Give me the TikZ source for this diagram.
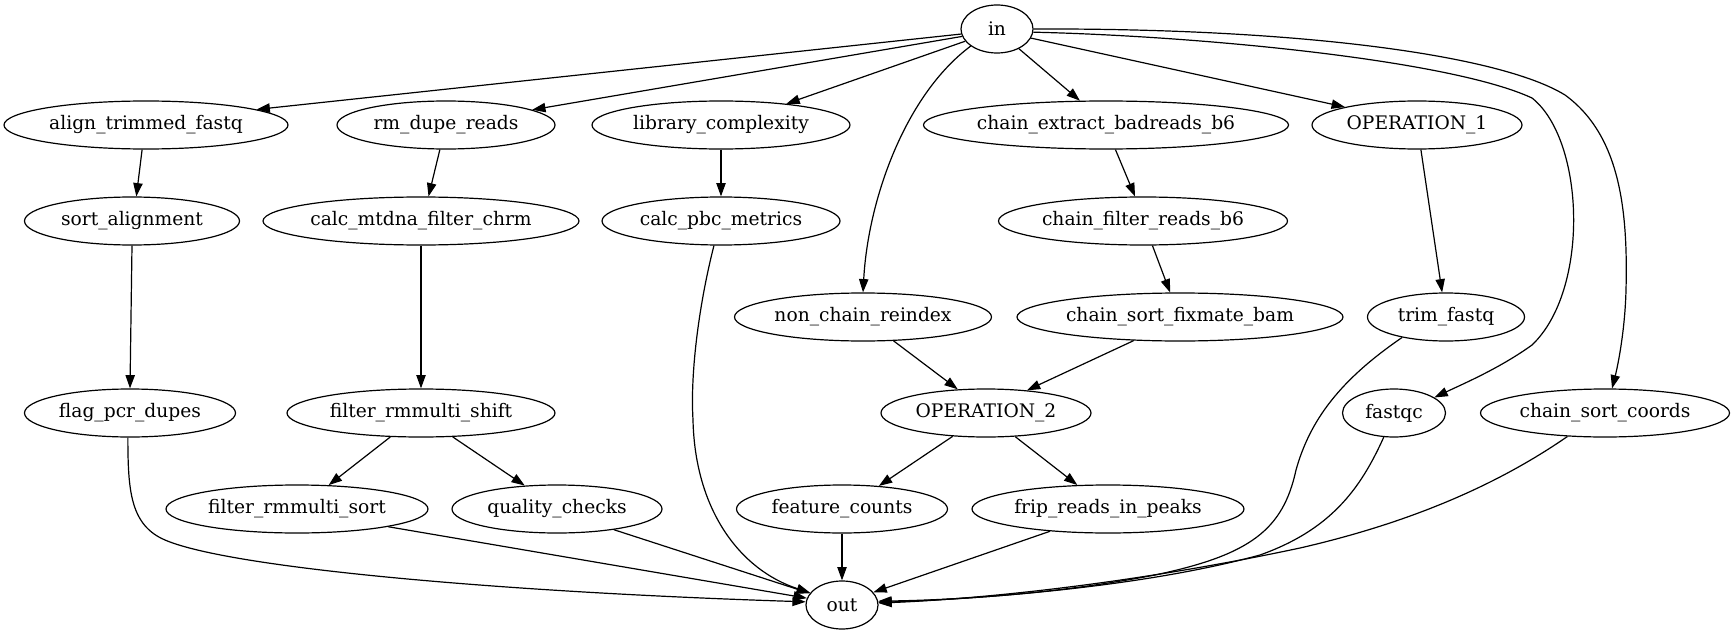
\documentclass[tikz,border=0pt]{standalone}
\usepackage{fontspec}
\setmainfont{DejaVu Serif}
\usetikzlibrary{arrows.meta,shapes.geometric}
\begin{document}
\begin{tikzpicture}[x=0.75pt,y=-0.75pt,
  nd/.style={draw, ellipse, inner sep=0pt, minimum height=36pt, line width=0.9pt, font=\fontsize{14}{17}\selectfont},
  conn/.style={line width=0.9pt, -{Triangle[length=10pt,width=7pt]}}]
\useasboundingbox (0,0) rectangle (1735,635);
% rank 0
\node[nd, minimum width=54pt] (in) at (997,29) {in};
% rank 1
\node[nd, minimum width=213pt] (align) at (146,125) {align\_trimmed\_fastq};
\node[nd, minimum width=163.5pt] (rmdupe) at (446,125) {rm\_dupe\_reads};
\node[nd, minimum width=193.5pt] (libc) at (721,125) {library\_complexity};
\node[nd, minimum width=273pt] (cext) at (1106,125) {chain\_extract\_badreads\_b6};
\node[nd, minimum width=157.5pt] (op1) at (1417,125) {OPERATION\_1};
% rank 2
\node[nd, minimum width=161.25pt] (sorta) at (132,221) {sort\_alignment};
\node[nd, minimum width=237pt] (mtdna) at (421,221) {calc\_mtdna\_filter\_chrm};
\node[nd, minimum width=178.5pt] (pbc) at (721,221) {calc\_pbc\_metrics};
\node[nd, minimum width=216.75pt] (cfilt) at (1143,221) {chain\_filter\_reads\_b6};
% rank 3
\node[nd, minimum width=192.75pt] (ncr) at (863,317) {non\_chain\_reindex};
\node[nd, minimum width=244.5pt] (csfb) at (1180,317) {chain\_sort\_fixmate\_bam};
\node[nd, minimum width=117.75pt] (trim) at (1446,317) {trim\_fastq};
% rank 4
\node[nd, minimum width=158.25pt] (flag) at (130,413) {flag\_pcr\_dupes};
\node[nd, minimum width=201pt] (fshift) at (421,413) {filter\_rmmulti\_shift};
\node[nd, minimum width=157.5pt] (op2) at (986,413) {OPERATION\_2};
\node[nd, minimum width=77.25pt] (fastqc) at (1394,413) {fastqc};
\node[nd, minimum width=186.75pt] (csc) at (1605,413) {chain\_sort\_coords};
% rank 5
\node[nd, minimum width=196.5pt] (fsort) at (297,509) {filter\_rmmulti\_sort};
\node[nd, minimum width=157.5pt] (qc) at (557,509) {quality\_checks};
\node[nd, minimum width=158.25pt] (fc) at (842,509) {feature\_counts};
\node[nd, minimum width=204pt] (frip) at (1108,509) {frip\_reads\_in\_peaks};
% rank 6
\node[nd, minimum width=54pt] (out) at (842,605) {out};

% edges from in
\draw[conn] (in.188) -- (align.8);
\draw[conn] (in.192.5) -- (rmdupe.10);
\draw[conn] (in.201) -- (libc.18.4);
\draw[conn] (in.213.7) .. controls (905,95) and (868,200) .. (ncr.90);
\draw[conn] (in.318) -- (cext.137.2);
\draw[conn] (in.345.6) -- (op1.166.7);
\draw[conn] (in.355) .. controls (1200,36) and (1450,60) .. (1532,98)
   .. controls (1585,140) and (1590,290) .. (1532,345)
   .. controls (1500,368) and (1465,383) .. (fastqc.21);
\draw[conn] (in.0) .. controls (1300,28) and (1500,55) .. (1565,95)
   .. controls (1620,135) and (1628,210) .. (1626,290)
   .. controls (1625,330) and (1618,365) .. (csc.74);
% left chains
\draw[conn] (align.261) -- (sorta.80.5);
\draw[conn] (rmdupe.256.5) -- (mtdna.73.7);
\draw[conn] (sorta.south) -- (flag.north);
\draw[conn] (mtdna.south) -- (fshift.north);
\draw[conn] (fshift.218.7) -- (fsort.37.5);
\draw[conn] (fshift.323) -- (qc.144.3);
\draw[conn] (libc.south) -- (pbc.north);
% middle
\draw[conn] (cext.291.8) -- (cfilt.108.4);
\draw[conn] (cfilt.291.8) -- (csfb.112.6);
\draw[conn] (ncr.322) -- (op2.140.4);
\draw[conn] (csfb.207) -- (op2.29.2);
\draw[conn] (op2.215.2) -- (fc.32.6);
\draw[conn] (op2.321.3) -- (frip.142.5);
\draw[conn] (op1.279) -- (trim.99.5);
% into out
\draw[conn] (flag.265) .. controls (128,490) and (130,525) .. (165,540)
   .. controls (230,568) and (500,592) .. (out.175);
\draw[conn] (fsort.349.9) -- (out.169);
\draw[conn] (qc.340) -- (out.160);
\draw[conn] (pbc.254) .. controls (700,300) and (690,370) .. (693,420)
   .. controls (695,510) and (740,570) .. (out.159);
\draw[conn] (fc.south) -- (out.north);
\draw[conn] (frip.201) -- (out.22.1);
\draw[conn] (trim.205.5) .. controls (1340,380) and (1310,420) .. (1296,470)
   .. controls (1283,530) and (1250,555) .. (1155,575)
   .. controls (1050,595) and (950,600) .. (out.6.3);
\draw[conn] (fastqc.247.4) .. controls (1360,490) and (1330,530) .. (1260,555)
   .. controls (1150,585) and (1000,598) .. (out.4.8);
\draw[conn] (csc.212.3) .. controls (1490,490) and (1400,525) .. (1300,548)
   .. controls (1150,580) and (1000,598) .. (out.3);
\end{tikzpicture}
\end{document}
